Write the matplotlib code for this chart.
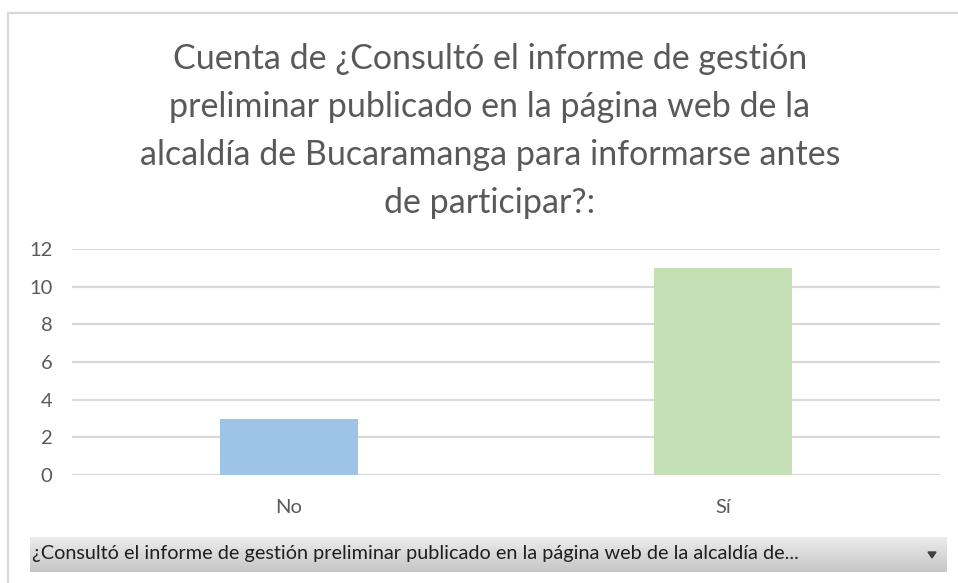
import matplotlib
matplotlib.use("Agg")
import matplotlib.pyplot as plt
import numpy as np
from matplotlib.patches import Rectangle, Polygon
from matplotlib.colors import LinearSegmentedColormap

categories = ["No", "Sí"]
values = [3, 11]
colors = ["#9DC3E6", "#C5E0B4"]
yticks = [0, 2, 4, 6, 8, 10, 12]
title = ("Cuenta de ¿Consultó el informe de gestión\n"
         "preliminar publicado en la página web de la\n"
         "alcaldía de Bucaramanga para informarse antes\n"
         "de participar?:")
field_label = "¿Consultó el informe de gestión preliminar publicado en la página web de la alcaldía de..."

W, H = 958, 583
fig = plt.figure(figsize=(W / 100, H / 100), dpi=100)
fig.patch.set_facecolor("white")
plt.rcParams['font.family'] = ['Lato', 'DejaVu Sans']

def fx(px): return px / W
def fy(py): return 1 - py / H

# chart border
fig.add_artist(Rectangle((fx(8), fy(650)), fx(1000), fy(13) - fy(650),
                         transform=fig.transFigure, fill=False,
                         edgecolor="#D9D9D9", linewidth=1.6))

# title
fig.text(fx(490), fy(131), title, ha="center", va="center", fontsize=24.5,
         color="#595959", linespacing=1.62)

# plot area
ax = fig.add_axes([fx(72), fy(475), fx(940) - fx(72), fy(249) - fy(475)])
x = np.arange(len(categories))
ax.bar(x, values, width=0.316, color=colors, zorder=3)
ax.set_xlim(-0.5, len(categories) - 0.5)
ax.set_ylim(0, 12)
ax.set_yticks(yticks)
ax.set_xticks(x)
ax.set_xticklabels(categories)
ax.yaxis.grid(True, color="#D9D9D9", linewidth=1.6, zorder=0)
ax.set_axisbelow(True)
for s in ax.spines.values():
    s.set_visible(False)
ax.tick_params(axis="both", length=0, labelsize=14.5, colors="#595959")
ax.tick_params(axis="y", pad=14)
ax.tick_params(axis="x", pad=17)

# field button with gradient
bax = fig.add_axes([fx(30), fy(572), fx(947) - fx(30), fy(537) - fy(572)])
grad = np.linspace(0, 1, 50).reshape(-1, 1)
cmap = LinearSegmentedColormap.from_list("g", ["#EDEDED", "#C6C6C6"])
bax.imshow(grad, aspect="auto", cmap=cmap, extent=[0, 1, 0, 1], origin="upper")
bax.set_xlim(0, 1)
bax.set_ylim(0, 1)
bax.axis("off")
fig.text(fx(32), fy(554), field_label, ha="left", va="center", fontsize=14.3,
         color="#1F1F1F")
tri = Polygon([[fx(928), fy(552)], [fx(936), fy(552)], [fx(932), fy(558)]],
              closed=True, transform=fig.transFigure, color="#404040")
fig.add_artist(tri)

fig.savefig("out.png", dpi=100)
